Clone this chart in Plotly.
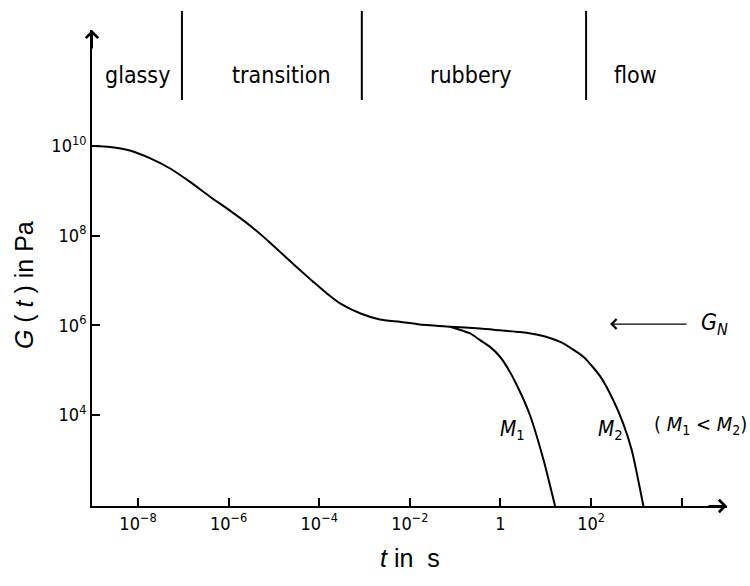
import plotly.graph_objects as go

# log10 values
main_log_t = [-8.99, -8.62, -8.18, -7.74, -7.29, -6.85, -6.41, -5.97, -5.53, -5.09,
              -4.65, -4.42, -4.13, -3.83, -3.54, -3.10, -2.66, -2.22, -1.78, -1.11,
              -0.45, -0.01, 0.43, 0.87, 1.32, 1.83, 2.21, 2.49, 2.71, 2.90, 3.155]
main_log_G = [10.0, 9.98, 9.90, 9.73, 9.50, 9.20, 8.87, 8.56, 8.23, 7.85,
              7.44, 7.23, 6.97, 6.71, 6.49, 6.27, 6.13, 6.08, 6.02, 5.97,
              5.93, 5.89, 5.85, 5.78, 5.63, 5.30, 4.85, 4.33, 3.81, 3.21, 1.97]
m1_log_t = [-1.11, -0.67, -0.45, -0.23, -0.01, 0.14, 0.36, 0.65, 0.95, 1.205]
m1_log_G = [5.97, 5.82, 5.67, 5.52, 5.30, 5.08, 4.67, 4.00, 3.00, 1.97]

x_tick_exp = [-8, -6, -4, -2, 0, 2, 4]
x_tick_text = ["10<sup>−8</sup>", "10<sup>−6</sup>", "10<sup>−4</sup>", "10<sup>−2</sup>", "1", "10<sup>2</sup>", ""]
y_tick_exp = [4, 6, 8, 10]
y_tick_text = ["10<sup>4</sup>", "10<sup>6</sup>", "10<sup>8</sup>", "10<sup>10</sup>"]

region_names = ["glassy", "transition", "rubbery", "flow"]
region_centers_log = [-8.02, -4.84, -0.67, 2.99]
region_bounds_log = [-7.03, -3.06, 1.89]
GN_log = 6.03

LINE = dict(color="black", width=2)
FONT = "DejaVu Sans Condensed, DejaVu Sans, sans-serif"
TFONT = "Liberation Sans, Arial, sans-serif"

fig = go.Figure()
fig.add_trace(go.Scatter(x=[10**v for v in main_log_t], y=[10**v for v in main_log_G],
                         mode="lines", line=dict(color="black", width=2, shape="spline", smoothing=0.6),
                         showlegend=False, hoverinfo="skip"))
fig.add_trace(go.Scatter(x=[10**v for v in m1_log_t], y=[10**v for v in m1_log_G],
                         mode="lines", line=dict(color="black", width=2, shape="spline", smoothing=0.6),
                         showlegend=False, hoverinfo="skip"))

fig.update_layout(
    width=750, height=586,
    margin=dict(l=92, r=23, t=30, b=80),
    paper_bgcolor="white", plot_bgcolor="white",
    xaxis=dict(type="log", range=[-9.015, 5.0], showgrid=False, zeroline=False,
               showline=True, linecolor="black", linewidth=2,
               ticks="inside", ticklen=8, tickwidth=2, tickcolor="black",
               tickvals=[10**e for e in x_tick_exp], ticktext=x_tick_text,
               tickfont=dict(family=FONT, size=18, color="black")),
    yaxis=dict(type="log", range=[1.97, 12.59], showgrid=False, zeroline=False,
               showline=True, linecolor="black", linewidth=2,
               ticks="inside", ticklen=8, tickwidth=2, tickcolor="black",
               tickvals=[10**e for e in y_tick_exp], ticktext=y_tick_text,
               tickfont=dict(family=FONT, size=18, color="black")),
)

# axis arrows
fig.add_annotation(xref="paper", yref="paper", x=0, y=1, ax=0, ay=20, text="",
                   showarrow=True, arrowhead=4, arrowwidth=2, arrowsize=1.2, arrowcolor="black")
fig.add_annotation(xref="paper", yref="paper", x=1, y=0, ax=-20, ay=0, text="",
                   showarrow=True, arrowhead=4, arrowwidth=2, arrowsize=1.2, arrowcolor="black")

# region dividers and labels
for b in region_bounds_log:
    fig.add_shape(type="line", xref="x", yref="paper", x0=10**b, x1=10**b, y0=0.853, y1=1.04,
                  line=LINE)
for name, c in zip(region_names, region_centers_log):
    fig.add_annotation(xref="x", yref="paper", x=c, y=0.905, xanchor="center", yanchor="middle",
                       text=name, showarrow=False,
                       font=dict(family=FONT, size=23, color="black"))

# G_N arrow and label
fig.add_annotation(xref="x", yref="y", axref="x", ayref="y", x=2.42, y=GN_log, ax=4.14, ay=GN_log,
                   text="", showarrow=True, arrowhead=4, arrowwidth=1.2, arrowsize=1.6, arrowcolor="black")
fig.add_annotation(xref="x", yref="y", x=4.72, y=GN_log, xanchor="center", yanchor="middle",
                   text="<i>G</i><sub><i>N</i></sub>",
                   showarrow=False, font=dict(family=FONT, size=23, color="black"))

# M labels
fig.add_annotation(xref="x", yref="y", x=0.26, y=3.66, xanchor="center", yanchor="middle",
                   text="<i>M</i><sub>1</sub>",
                   showarrow=False, font=dict(family=FONT, size=21, color="black"))
fig.add_annotation(xref="x", yref="y", x=2.42, y=3.66, xanchor="center", yanchor="middle",
                   text="<i>M</i><sub>2</sub>",
                   showarrow=False, font=dict(family=FONT, size=21, color="black"))
fig.add_annotation(xref="x", yref="y", x=4.41, y=3.77, xanchor="center", yanchor="middle",
                   text="( <i>M</i><sub>1</sub> &lt; <i>M</i><sub>2</sub>)",
                   showarrow=False, font=dict(family=FONT, size=20, color="black"))

# axis titles
fig.add_annotation(xref="paper", yref="paper", x=-0.108, y=0.465, xanchor="center", yanchor="middle",
                   textangle=-90,
                   text="<i>G</i> ( <i>t</i> ) in Pa", showarrow=False,
                   font=dict(family=TFONT, size=25, color="black"))
fig.add_annotation(xref="paper", yref="paper", x=0.5, y=-0.11, xanchor="center", yanchor="middle",
                   text="<i>t</i> in&nbsp; s", showarrow=False,
                   font=dict(family=TFONT, size=25, color="black"))

fig.write_html("out.html", config={"displayModeBar": False},
               post_script="document.body.style.margin='0px';")
